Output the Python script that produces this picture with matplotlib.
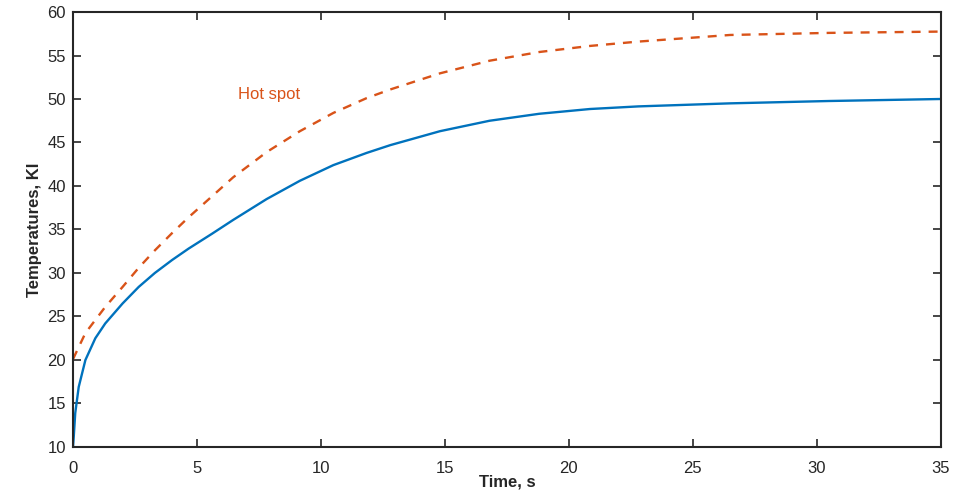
import numpy as np
import matplotlib
matplotlib.use("Agg")
import matplotlib.pyplot as plt

plt.rcParams['font.family'] = ['Liberation Sans', 'DejaVu Sans']

# values
t_avg = [0, 0.03, 0.09, 0.23, 0.5, 0.9, 1.3, 2.0, 2.65, 3.3, 4.0, 4.66, 5.6,
         6.46, 7.81, 9.15, 10.5, 11.84, 12.8, 14.8, 16.8, 18.8, 20.85, 22.8,
         26.5, 30.5, 35]
temp_avg = [10, 11.2, 13.9, 16.9, 20.0, 22.5, 24.2, 26.5, 28.4, 30.0, 31.5, 32.8,
            34.5, 36.1, 38.5, 40.6, 42.4, 43.8, 44.7, 46.3, 47.5, 48.3, 48.85,
            49.15, 49.5, 49.77, 50.0]

t_hot = [0, 0.5, 1.3, 2.0, 2.65, 3.3, 4.0, 4.66, 5.6, 6.46, 7.81, 9.15, 10.5,
         11.84, 12.8, 14.8, 16.8, 18.8, 20.85, 22.8, 26.5, 30.5, 35]
temp_hot = [20.1, 23.1, 26.1, 28.4, 30.6, 32.6, 34.6, 36.4, 38.8, 41.0, 43.9,
            46.3, 48.4, 50.1, 51.1, 52.95, 54.4, 55.4, 56.1, 56.6, 57.36, 57.6,
            57.75]

xticks = [0, 5, 10, 15, 20, 25, 30, 35]
yticks = [10, 15, 20, 25, 30, 35, 40, 45, 50, 55, 60]

blue = '#0072BD'
orange = '#D95319'
dark = '#262626'

fig = plt.figure(figsize=(9.62, 4.92), dpi=100)
ax = fig.add_axes([0.0759, 0.0915, 0.9021, 0.8841])

ax.plot(t_avg, temp_avg, color=blue, lw=1.7, solid_joinstyle='round')
ax.plot(t_hot, temp_hot, color=orange, lw=1.7, ls=(0, (3.8, 3.4)))
ax.text(6.65, 50.5, 'Hot spot', color=orange, fontsize=12, ha='left', va='center')

ax.set_xlim(0, 35)
ax.set_ylim(10, 60)
ax.set_xticks(xticks)
ax.set_yticks(yticks)
ax.tick_params(direction='in', length=6, width=1.2, top=True, right=True,
               labelsize=12, colors=dark, pad=5)
ax.tick_params(axis='x', pad=10)
for s in ax.spines.values():
    s.set_linewidth(1.5)
    s.set_color(dark)

ax.set_xlabel('Time, s', fontsize=12, fontweight='bold', color=dark, labelpad=-1)
ax.set_ylabel('Temperatures, KI', fontsize=12, fontweight='bold', color=dark, labelpad=4)

plt.savefig('out.png', dpi=100)
